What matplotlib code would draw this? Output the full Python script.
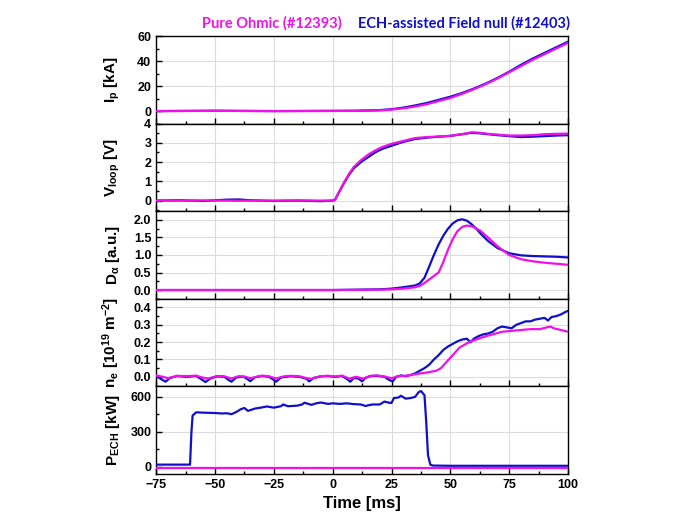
#import modules
import numpy as np
import matplotlib.pyplot as plt
from matplotlib.ticker import MultipleLocator, FormatStrFormatter

plt.rcParams['font.family'] = ['Liberation Sans', 'DejaVu Sans']
plt.rcParams['font.weight'] = 'bold'
plt.rcParams['mathtext.fontset'] = 'custom'
plt.rcParams['mathtext.rm'] = 'Liberation Sans:bold'
plt.rcParams['mathtext.it'] = 'Liberation Sans:bold'
plt.rcParams['mathtext.bf'] = 'Liberation Sans:bold'

#colours
Blue = '#1010c8'
Magenta = '#f010e8'

#plasma current [kA]
tIp = [-75, -50, -25, 0, 10, 20, 25, 30, 35, 40, 45, 50, 55, 60, 65, 70, 75, 80, 85, 90, 95, 100]
IpECH = [0, 0.3, 0, 0.2, 0.3, 0.8, 1.5, 2.8, 4.5, 6.5, 9, 11.5, 14.5, 18, 22, 26.5, 31.5, 37, 42, 46.5, 51, 55.5]
IpOhm = [0, 0.2, 0, 0.1, 0.2, 0.6, 1.2, 2.2, 3.6, 5.5, 8, 10.5, 13.8, 17.5, 21.5, 26, 31, 36, 41, 45.5, 50, 54.5]

#loop voltage [V]
tV = [-75, -65, -55, -45, -40, -35, -25, -15, -5, 0, 1, 3, 5, 7, 9, 12, 15, 18, 21, 25, 30, 35, 40, 45,
      50, 55, 59, 62, 66, 70, 75, 80, 85, 90, 95, 100]
VECH = [0, 0.02, -0.02, 0.05, 0.06, 0.02, -0.02, 0, -0.03, 0, 0.05, 0.5, 0.95, 1.35, 1.68, 2.0, 2.25, 2.5,
        2.68, 2.85, 3.05, 3.2, 3.27, 3.32, 3.36, 3.45, 3.52, 3.5, 3.45, 3.4, 3.35, 3.3, 3.32, 3.35, 3.38, 3.4]
VOhm = [0, 0, 0.01, 0, -0.01, 0, 0, 0.01, 0, 0, 0.05, 0.52, 0.98, 1.4, 1.75, 2.1, 2.38, 2.6,
        2.78, 2.95, 3.1, 3.25, 3.3, 3.33, 3.37, 3.45, 3.55, 3.53, 3.47, 3.43, 3.38, 3.38, 3.4, 3.45, 3.47, 3.48]

#D-alpha [a.u.]
tDa = [-75, 0, 20, 25, 30, 35, 37, 39, 41, 43, 45, 47, 49, 51, 53, 55, 57, 59, 61, 63, 66, 70, 75, 80, 85, 90, 95, 100]
DaECH = [0, 0, 0.02, 0.04, 0.08, 0.13, 0.19, 0.35, 0.67, 1.0, 1.3, 1.55, 1.75, 1.9, 1.99, 2.02, 1.98, 1.88,
         1.75, 1.6, 1.4, 1.2, 1.05, 0.99, 0.97, 0.96, 0.95, 0.93]
DaOhm = [0, 0, 0.01, 0.02, 0.04, 0.08, 0.12, 0.2, 0.3, 0.4, 0.5, 0.8, 1.15, 1.45, 1.68, 1.8, 1.84, 1.82,
         1.76, 1.68, 1.5, 1.25, 1.0, 0.88, 0.82, 0.78, 0.75, 0.72]

#line density [1e19 m^-2]
tneECH = [-75, -73, -71, -69, -66, -62, -58, -56, -54, -52, -49, -46, -44, -43, -41, -38, -36, -35, -33, -30,
          -27, -25, -24, -22, -18, -14, -11, -10, -8, -5, -2, 1, 4, 6, 7.5, 9, 11, 12.5, 14, 16, 19, 22, 24,
          25.5, 27, 29, 31, 33, 35, 37, 39, 41, 43, 45, 47, 49, 51, 53, 55, 57, 58.5, 60, 62, 64, 66, 68, 70,
          72, 74, 76, 78, 80, 82, 84, 86, 88, 90, 91.5, 93, 95, 97, 99, 100]
neECH = [0.005, -0.012, -0.028, -0.006, 0.005, 0.0, 0.005, -0.012, -0.03, -0.01, 0.003, 0.0, -0.02, -0.028,
         -0.004, 0.002, -0.015, -0.025, -0.002, 0.005, 0.0, -0.018, -0.028, -0.004, 0.004, 0.0, -0.012, -0.026,
         -0.006, 0.003, 0.005, 0.0, 0.005, -0.012, -0.028, -0.006, -0.01, -0.026, -0.006, 0.004, 0.006, 0.0,
         -0.018, -0.026, 0.0, 0.008, 0.004, 0.01, 0.02, 0.035, 0.05, 0.07, 0.1, 0.125, 0.155, 0.175, 0.19,
         0.205, 0.215, 0.22, 0.2, 0.22, 0.235, 0.245, 0.25, 0.26, 0.28, 0.29, 0.285, 0.28, 0.3, 0.31, 0.32,
         0.32, 0.33, 0.335, 0.34, 0.325, 0.345, 0.35, 0.36, 0.375, 0.38]
tneOhm = [-75, -72, -70, -66, -62, -58, -55, -53, -49, -46, -43, -40, -37, -35, -30, -27, -24, -21, -18, -14,
          -11, -9, -5, -2, 1, 4, 7, 10, 13, 16, 19, 22, 25, 28, 31, 35, 40, 44, 46, 48, 50, 52, 54, 56, 58, 60,
          62, 64, 68, 72, 76, 80, 84, 88, 91, 92.5, 94, 97, 100]
neOhm = [0.008, 0.0, -0.008, 0.006, 0.004, 0.007, -0.005, -0.01, 0.005, 0.003, -0.01, 0.004, 0.0, -0.008,
         0.007, 0.003, -0.01, 0.002, 0.006, 0.003, -0.008, -0.012, 0.004, 0.006, 0.002, 0.007, -0.01, 0.0,
         -0.01, 0.006, 0.008, 0.002, -0.008, 0.004, 0.006, 0.015, 0.025, 0.035, 0.05, 0.08, 0.11, 0.14, 0.17,
         0.185, 0.2, 0.21, 0.22, 0.23, 0.245, 0.26, 0.265, 0.27, 0.275, 0.275, 0.285, 0.29, 0.28, 0.27, 0.26]

#ECH power [kW]
tP = [-75, -60.6, -60, -59.5, -58, -55, -50, -47, -45, -43, -41, -39, -37.5, -36, -33, -30, -28, -25, -22, -21,
      -19, -15, -13, -12, -9, -7, -5, -2, 0, 3, 6, 9, 12, 14, 15.5, 17, 20, 22, 24, 25, 26, 28, 29, 31, 33, 35,
      36.5, 37.5, 39, 39.7, 40.5, 41.5, 42.5, 50, 75, 100]
PECH = [20, 20, 300, 440, 468, 465, 462, 458, 460, 452, 470, 495, 505, 480, 500, 510, 518, 508, 520, 535, 520,
        525, 535, 550, 532, 545, 552, 540, 545, 540, 545, 538, 535, 522, 530, 535, 535, 560, 550, 548, 590, 595,
        610, 585, 590, 600, 640, 650, 615, 400, 100, 20, 12, 10, 10, 10]
tPOhm = [-75, 100]
POhm = [-10, -10]

#panel settings
Panels = [(tIp, IpECH, tIp, IpOhm, r'I$_\mathregular{p}$ [kA]', (-10, 60), 20, 10, '%d'),
          (tV, VECH, tV, VOhm, r'V$_\mathregular{loop}$ [V]', (-0.55, 4), 1, 0.5, '%d'),
          (tDa, DaECH, tDa, DaOhm, r'D$_\alpha$ [a.u.]', (-0.25, 2.25), 0.5, 0.25, '%.1f'),
          (tneECH, neECH, tneOhm, neOhm, r'n$_\mathregular{e}$ [10$^{19}$ m$^{-2}$]', (-0.055, 0.45), 0.1, 0.05, '%.1f'),
          (tP, PECH, tPOhm, POhm, r'P$_\mathregular{ECH}$ [kW]', (-60, 690), 300, 150, '%d')]

fig, axes = plt.subplots(5, 1, figsize=(6.97, 5.22), dpi=100, sharex=True)
fig.subplots_adjust(left=0.224, right=0.815, top=0.931, bottom=0.092, hspace=0)

for ax, (t1, y1, t2, y2, lab, lim, maj, mnr, fmt) in zip(axes, Panels):
    ax.plot(t1, y1, color=Blue, lw=1.6, zorder=3)
    ax.plot(t2, y2, color=Magenta, lw=1.6, zorder=4)
    ax.set_ylim(lim)
    ax.set_xlim(-75, 100)
    ax.yaxis.set_major_locator(MultipleLocator(maj))
    ax.yaxis.set_minor_locator(MultipleLocator(mnr))
    ax.yaxis.set_major_formatter(FormatStrFormatter(fmt))
    ax.xaxis.set_major_locator(MultipleLocator(25))
    ax.xaxis.set_minor_locator(MultipleLocator(12.5))
    ax.tick_params(which='both', direction='in', labelsize=9, width=1.0)
    ax.tick_params(which='major', length=4)
    ax.tick_params(which='minor', length=2.5)
    ax.grid(True, which='major', color='#dcdcdc', lw=0.8)
    ax.set_axisbelow(True)
    for s in ax.spines.values():
        s.set_linewidth(1.0)
    ax.set_ylabel(lab, fontsize=11, fontweight='bold', labelpad=6)

axes[-1].set_xlabel('Time [ms]', fontsize=12, fontweight='bold')
fig.align_ylabels(axes)

#legend as coloured title text
fig.text(342/697., 1-23/522., 'Pure Ohmic (#12393)', color=Magenta, ha='right', va='center',
         fontsize=10.5, fontweight='bold', family=['Lato', 'DejaVu Sans'])
fig.text(358/697., 1-23/522., 'ECH-assisted Field null (#12403)', color=Blue, ha='left', va='center',
         fontsize=10.5, fontweight='bold', family=['Lato', 'DejaVu Sans'])

plt.savefig('out.png', dpi=100)
